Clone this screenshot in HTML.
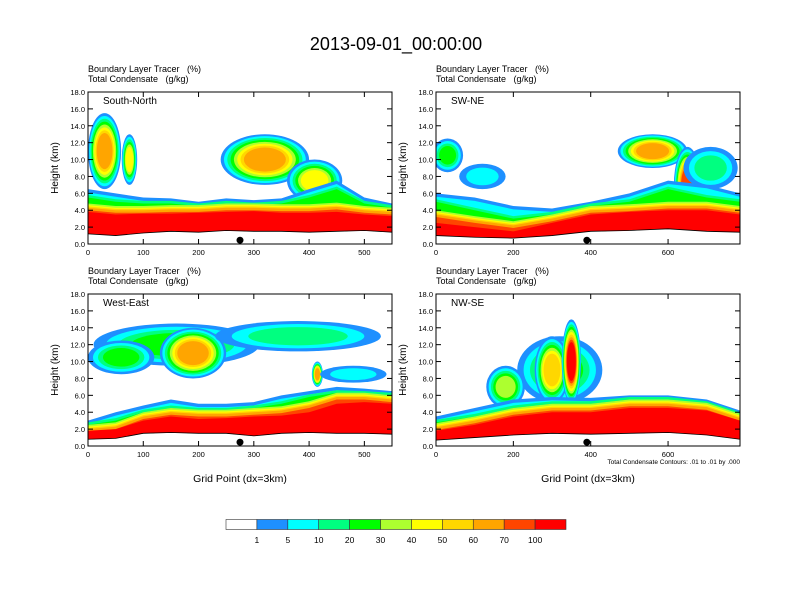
<!DOCTYPE html>
<html><head><meta charset="utf-8"><style>
body{margin:0;background:#fff;}
svg{display:block;font-family:"Liberation Sans",sans-serif;}
text{white-space:pre;}
</style></head><body>
<svg id="fig" width="792" height="612" viewBox="0 0 792 612">
<text x="396" y="50" font-size="18" text-anchor="middle">2013-09-01_00:00:00</text>
</svg>
<script>
const colors=["#ffffff","#1e90ff","#00ffff","#00ff80","#00ff00","#adff2f","#ffff00","#ffd700","#ffa500","#ff4500","#ff0000"];
const cbLabels=["1","5","10","20","30","40","50","60","70","100"];
const yTicks=[0,2,4,6,8,10,12,14,16,18];
// South-North
const snX=[0,50,100,150,200,250,300,350,400,450,500,550];
const snTerrain=[1.2,1.0,1.3,1.5,1.4,1.6,1.5,1.5,1.4,1.5,1.6,1.4];
const snRed=[3.8,3.5,3.6,3.6,3.7,3.8,3.9,3.7,3.7,3.8,3.5,3.3];
const snOrange=[4.3,4.0,4.0,4.1,4.1,4.3,4.3,4.2,4.2,4.4,4.0,3.8];
const snGreen=[5.5,5.0,4.8,4.8,4.5,4.8,4.6,4.8,5.5,6.5,4.8,4.3];
const snBlue=[6.5,6.0,5.5,5.4,5.0,5.4,5.2,5.4,6.5,7.5,5.5,4.8];
const snBlobX=[30,75,320,410];
const snBlobZ=[11,10,10,7.5];
const snBlobLvl=[8,6,8,6];
// SW-NE
const swX=[0,100,200,300,400,500,600,700,786];
const swTerrain=[1.0,0.8,0.7,1.0,1.5,1.6,1.8,1.5,1.4];
const swRed=[2.5,2.0,1.5,2.5,3.5,3.8,4.0,4.0,3.5];
const swOrange=[3.5,2.8,2.2,3.0,4.0,4.2,4.5,4.5,4.0];
const swGreen=[5.0,4.0,3.0,3.5,4.5,5.0,6.5,5.5,5.0];
const swBlue=[6.0,5.5,4.5,4.2,5.0,6.0,7.5,7.0,6.0];
const swBlobX=[30,120,560,650,710];
const swBlobZ=[10.5,8,11,7,9];
const swBlobLvl=[4,2,8,9,3];
// West-East
const weX=[0,50,100,150,200,250,300,350,400,450,500,550];
const weTerrain=[0.8,0.9,1.5,1.6,1.5,1.5,1.2,1.5,1.6,1.5,1.5,1.4];
const weRed=[1.8,2.0,3.0,3.5,3.2,3.3,3.5,3.6,4.0,5.0,5.2,5.0];
const weOrange=[2.0,2.3,3.5,4.0,3.8,3.8,4.0,4.2,4.8,5.8,5.8,5.5];
const weGreen=[2.5,3.0,4.0,4.5,4.2,4.2,4.5,5.0,5.8,6.3,6.2,6.0];
const weBlue=[3.0,4.0,4.8,5.5,5.0,5.0,5.2,6.0,6.5,7.0,6.8,6.5];
const weBlobX=[160,190,380,60,415,480];
const weBlobZ=[12,11,13,10.5,8.5,8.5];
const weBlobLvl=[4,8,3,4,8,2];
// NW-SE
const nwX=[0,100,200,300,400,500,600,700,786];
const nwTerrain=[0.7,1.0,1.3,1.5,1.4,1.5,1.6,1.3,0.8];
const nwRed=[1.8,2.5,3.5,4.0,4.0,4.5,4.5,4.2,3.0];
const nwOrange=[2.2,3.0,4.0,4.5,4.5,5.0,5.0,4.6,3.3];
const nwGreen=[2.8,3.5,4.5,5.0,5.0,5.5,5.5,5.0,3.7];
const nwBlue=[3.5,4.5,5.5,5.8,5.7,6.0,6.0,5.5,4.2];
const nwBlobX=[320,300,350,180];
const nwBlobZ=[9,9,10,7];
const nwBlobLvl=[4,7,10,5];

const NS="http://www.w3.org/2000/svg";
const svg=document.getElementById('fig');
function mk(tag,attrs,parent,text){const e=document.createElementNS(NS,tag);for(const k in attrs)e.setAttribute(k,attrs[k]);if(text!==undefined)e.textContent=text;(parent||svg).appendChild(e);return e;}

const panels=[
 {name:"South-North",id:"south-north",x0:88,y0:92,xmax:550,xt:[0,100,200,300,400,500],X:snX,T:snTerrain,R:snRed,O:snOrange,G:snGreen,B:snBlue,bx:snBlobX,bz:snBlobZ,bl:snBlobLvl,brx:[30,14,80,50],brz:[4.5,3,3,2.5],dot:275,xl:false},
 {name:"SW-NE",id:"sw-ne",x0:436,y0:92,xmax:786,xt:[0,200,400,600],X:swX,T:swTerrain,R:swRed,O:swOrange,G:swGreen,B:swBlue,bx:swBlobX,bz:swBlobZ,bl:swBlobLvl,brx:[40,60,90,35,70],brz:[2,1.5,2,4.5,2.5],dot:390,xl:false},
 {name:"West-East",id:"west-east",x0:88,y0:294,xmax:550,xt:[0,100,200,300,400,500],X:weX,T:weTerrain,R:weRed,O:weOrange,G:weGreen,B:weBlue,bx:weBlobX,bz:weBlobZ,bl:weBlobLvl,brx:[150,60,150,60,10,60],brz:[2.5,3,1.8,2,1.5,1],dot:275,xl:true},
 {name:"NW-SE",id:"nw-se",x0:436,y0:294,xmax:786,xt:[0,200,400,600],X:nwX,T:nwTerrain,R:nwRed,O:nwOrange,G:nwGreen,B:nwBlue,bx:nwBlobX,bz:nwBlobZ,bl:nwBlobLvl,brx:[110,45,25,50],brz:[4,4,5,2.5],dot:390,xl:true}
];
const W=304,H=152;
panels.forEach((p,pi)=>{
 const g=mk('g',{},svg);
 
 
 const sx=v=>p.x0+v/p.xmax*W, sy=z=>p.y0+H-z/18*H;
 const cid='clip'+pi;
 const cp=mk('clipPath',{id:cid},g);mk('rect',{x:p.x0,y:p.y0,width:W,height:H},cp);
 const plot=mk('g',{'clip-path':'url(#'+cid+')'},g);
 p.bx.forEach((bx,i)=>{
  const L=p.bl[i];
  for(let k=1;k<=L;k++){
   const f=1-(k-1)/L*0.6;
   const e=mk('ellipse',{cx:sx(bx),cy:sy(p.bz[i]),rx:p.brx[i]/p.xmax*W*f,ry:p.brz[i]/18*H*f,fill:colors[k]},plot);
   
   
  }
 });
 const bands=[[p.B,0,1],[p.B,-0.4,2],[p.G,0.3,3],[p.G,0,4],[p.O,0.5,5],[p.O,0.3,6],[p.O,0.15,7],[p.O,0,8],[p.O,-0.3,9],[p.R,0,10]];
 bands.forEach(([arr,off,ci])=>{
  let pts=p.X.map((x,i)=>sx(x)+','+sy(Math.max(arr[i]+off,p.T[i])));
  for(let i=p.X.length-1;i>=0;i--)pts.push(sx(p.X[i])+','+sy(p.T[i]));
  const pg=mk('polygon',{points:pts.join(' '),fill:colors[ci]},plot);
  
  
 });
 const tl=mk('polyline',{points:p.X.map((x,i)=>sx(x)+','+sy(p.T[i])).join(' '),fill:'none',stroke:'#000','stroke-width':0.8},plot);
 
 
 const dot=mk('circle',{cx:sx(p.dot),cy:sy(0.45),r:3.5,fill:'#000'},plot);
 
 
 mk('rect',{x:p.x0,y:p.y0,width:W,height:H,fill:'none',stroke:'#000','stroke-width':1},g);
 const nm=mk('text',{x:p.x0+15,y:p.y0+12,'font-size':10},g,p.name);
 
 
 const h1=mk('text',{x:p.x0,y:p.y0-20,'font-size':9},g,'Boundary Layer Tracer   (%)');
 
 
 const h2=mk('text',{x:p.x0,y:p.y0-10,'font-size':9},g,'Total Condensate   (g/kg)');
 
 
 yTicks.forEach(t=>{
  const y=sy(t);
  mk('line',{x1:p.x0,x2:p.x0+5,y1:y,y2:y,stroke:'#000'},g);
  mk('line',{x1:p.x0+W,x2:p.x0+W-5,y1:y,y2:y,stroke:'#000'},g);
  const tx=mk('text',{x:p.x0-3,y:y+3,'font-size':7.5,'text-anchor':'end'},g,t.toFixed(1));
  
  
 });
 p.xt.forEach(t=>{
  const x=sx(t);
  mk('line',{x1:x,x2:x,y1:p.y0+H,y2:p.y0+H-5,stroke:'#000'},g);
  mk('line',{x1:x,x2:x,y1:p.y0,y2:p.y0+5,stroke:'#000'},g);
  const tx=mk('text',{x:x,y:p.y0+H+11,'font-size':7.5,'text-anchor':'middle'},g,String(t));
  
  
 });
 const yt=mk('text',{x:0,y:0,'font-size':10,'text-anchor':'middle',transform:'translate('+(p.x0-30)+','+(p.y0+H/2)+') rotate(-90)'},g,'Height (km)');
 
 
 if(p.xl){
  const xt=mk('text',{x:p.x0+W/2,y:p.y0+H+36,'font-size':10.5,'text-anchor':'middle'},g,'Grid Point (dx=3km)');
  
  
 }
});
const note=mk('text',{x:740,y:464,'font-size':6.5,'text-anchor':'end'},svg,'Total Condensate Contours: .01 to .01 by .000');


const cb=mk('g',{},svg);


const bw=340/colors.length;
colors.forEach((c,i)=>{
 const r=mk('rect',{x:226+i*bw,y:519.5,width:bw,height:10,fill:c,stroke:'#333','stroke-width':0.6},cb);
 
 
});
cbLabels.forEach((l,i)=>{
 const t=mk('text',{x:226+(i+1)*bw,y:543,'font-size':8.5,'text-anchor':'middle'},cb,l);
 
 
});
</script>
</body></html>
